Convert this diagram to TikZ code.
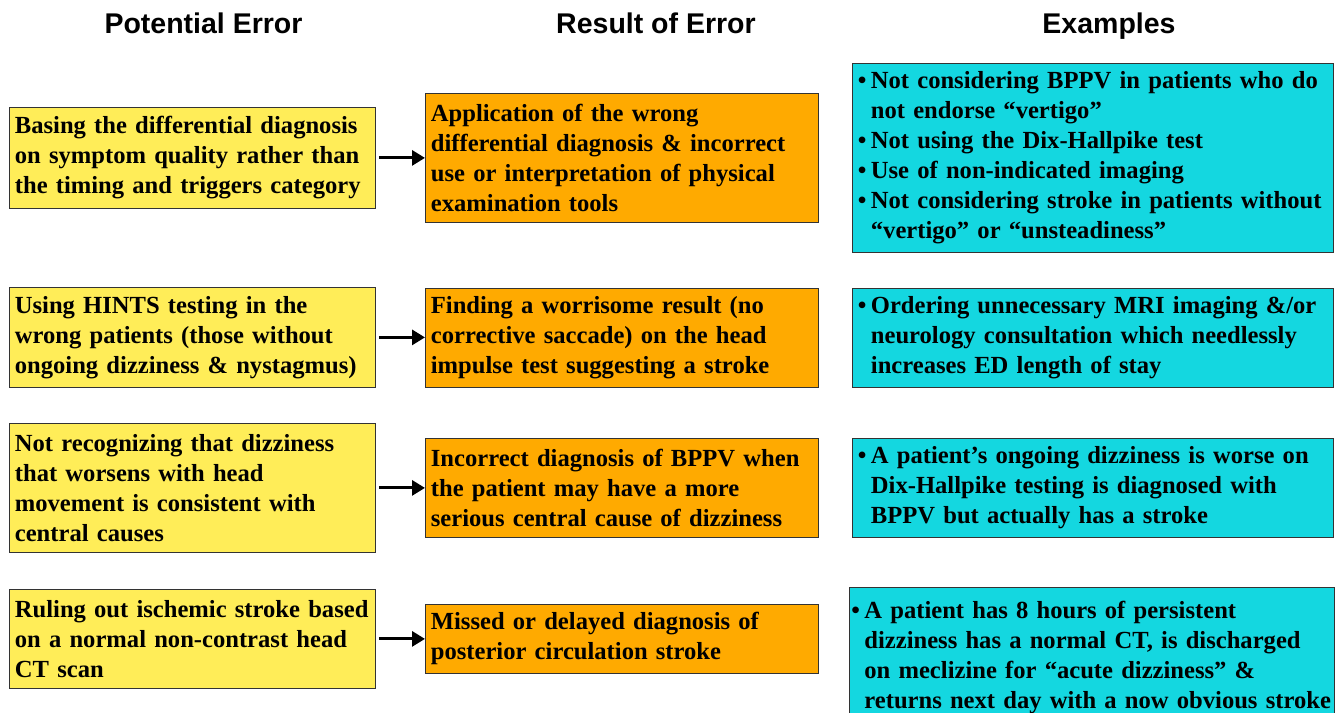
\documentclass[tikz,border=0pt]{standalone}
\usepackage{fontspec}
\setmainfont{Liberation Serif}
\newfontfamily\hdfont{Liberation Sans}
\usetikzlibrary{arrows.meta}
\definecolor{ylw}{HTML}{FFED58}
\definecolor{org}{HTML}{FFAA00}
\definecolor{cyn}{HTML}{14D7E0}
\definecolor{edge}{HTML}{333333}
\newcommand{\bul}{\makebox[13pt][l]{•}}
\newcommand{\ind}{\hspace*{13pt}}
\newcommand{\boxfont}{\fontsize{24.6}{30}\selectfont\bfseries\spaceskip=0.22em plus 0.05em minus 0.05em\hyphenpenalty=10000\exhyphenpenalty=10000}
\tikzset{
  box/.style={draw=edge, line width=0.8pt, anchor=north west, inner xsep=5.5pt, inner ysep=0pt,
    align=left, font=\boxfont},
  ybox/.style={box, fill=ylw, text width=355pt},
  obox/.style={box, fill=org, text width=382pt},
  cbox/.style={box, fill=cyn, text width=470pt},
  head/.style={font=\hdfont\fontsize{28.5}{32}\selectfont\bfseries, anchor=base},
  arr/.style={line width=3pt, -{Triangle[length=13pt,width=15pt]}, shorten <=3pt}
}
\begin{document}
\begin{tikzpicture}[x=1pt,y=-1pt]
\useasboundingbox (0,0) rectangle (1338,712);
\clip (0,0) rectangle (1338,712);
\node[head] (h1) at (203.5,33) {Potential Error};
\node[head] (h2) at (656,33) {Result of Error};
\node[head] (h3) at (1109,33) {Examples};

% row 1
\node[ybox, minimum height=101pt] (y1) at (9,107) {Basing the differential diagnosis\\on symptom quality rather than\\the timing and triggers category};
\node[obox, minimum height=129pt] (o1) at (425,93) {Application of the wrong\\differential diagnosis \& incorrect\\use or interpretation of physical\\examination tools};
\node[cbox, minimum height=189pt] (c1) at (852,63) {\bul Not considering BPPV in patients who do\\\ind not endorse “vertigo”\\\bul Not using the Dix-Hallpike test\\\bul Use of non-indicated imaging\\\bul Not considering stroke in patients without\\\ind “vertigo” or “unsteadiness”};

% row 2
\node[ybox, minimum height=100pt] (y2) at (9,287) {Using HINTS testing in the\\wrong patients (those without\\ongoing dizziness \& nystagmus)};
\node[obox, minimum height=99pt] (o2) at (425,287.5) {Finding a worrisome result (no\\corrective saccade) on the head\\impulse test suggesting a stroke};
\node[cbox, minimum height=99pt] (c2) at (852,287.5) {\bul Ordering unnecessary MRI imaging \&/or\\\ind neurology consultation which needlessly\\\ind increases ED length of stay};

% row 3
\node[ybox, minimum height=129pt] (y3) at (9,423) {Not recognizing that dizziness\\that worsens with head\\movement is consistent with\\central causes};
\node[obox, minimum height=99pt] (o3) at (425,438) {Incorrect diagnosis of BPPV when\\the patient may have a more\\serious central cause of dizziness};
\node[cbox, minimum height=99pt] (c3) at (852,438) {\bul A patient’s ongoing dizziness is worse on\\\ind Dix-Hallpike testing is diagnosed with\\\ind BPPV but actually has a stroke};

% row 4
\node[cbox, text width=481pt, inner xsep=2pt, minimum height=140pt, inner ysep=11pt] (c4) at (849,587) {\bul A patient has 8 hours of persistent\\\ind dizziness has a normal CT, is discharged\\\ind on meclizine for “acute dizziness” \&\\\ind returns next day with a now obvious stroke};
\node[ybox, minimum height=99pt] (y4) at (9,589) {Ruling out ischemic stroke based\\on a normal non-contrast head\\CT scan};
\node[obox, minimum height=69pt] (o4) at (425,604) {Missed or delayed diagnosis of\\posterior circulation stroke};

\draw[arr] (y1.east) -- (y1.east -| o1.west);
\draw[arr] (y2.east) -- (y2.east -| o2.west);
\draw[arr] (y3.east) -- (y3.east -| o3.west);
\draw[arr] (y4.east) -- (y4.east -| o4.west);
\end{tikzpicture}
\end{document}
